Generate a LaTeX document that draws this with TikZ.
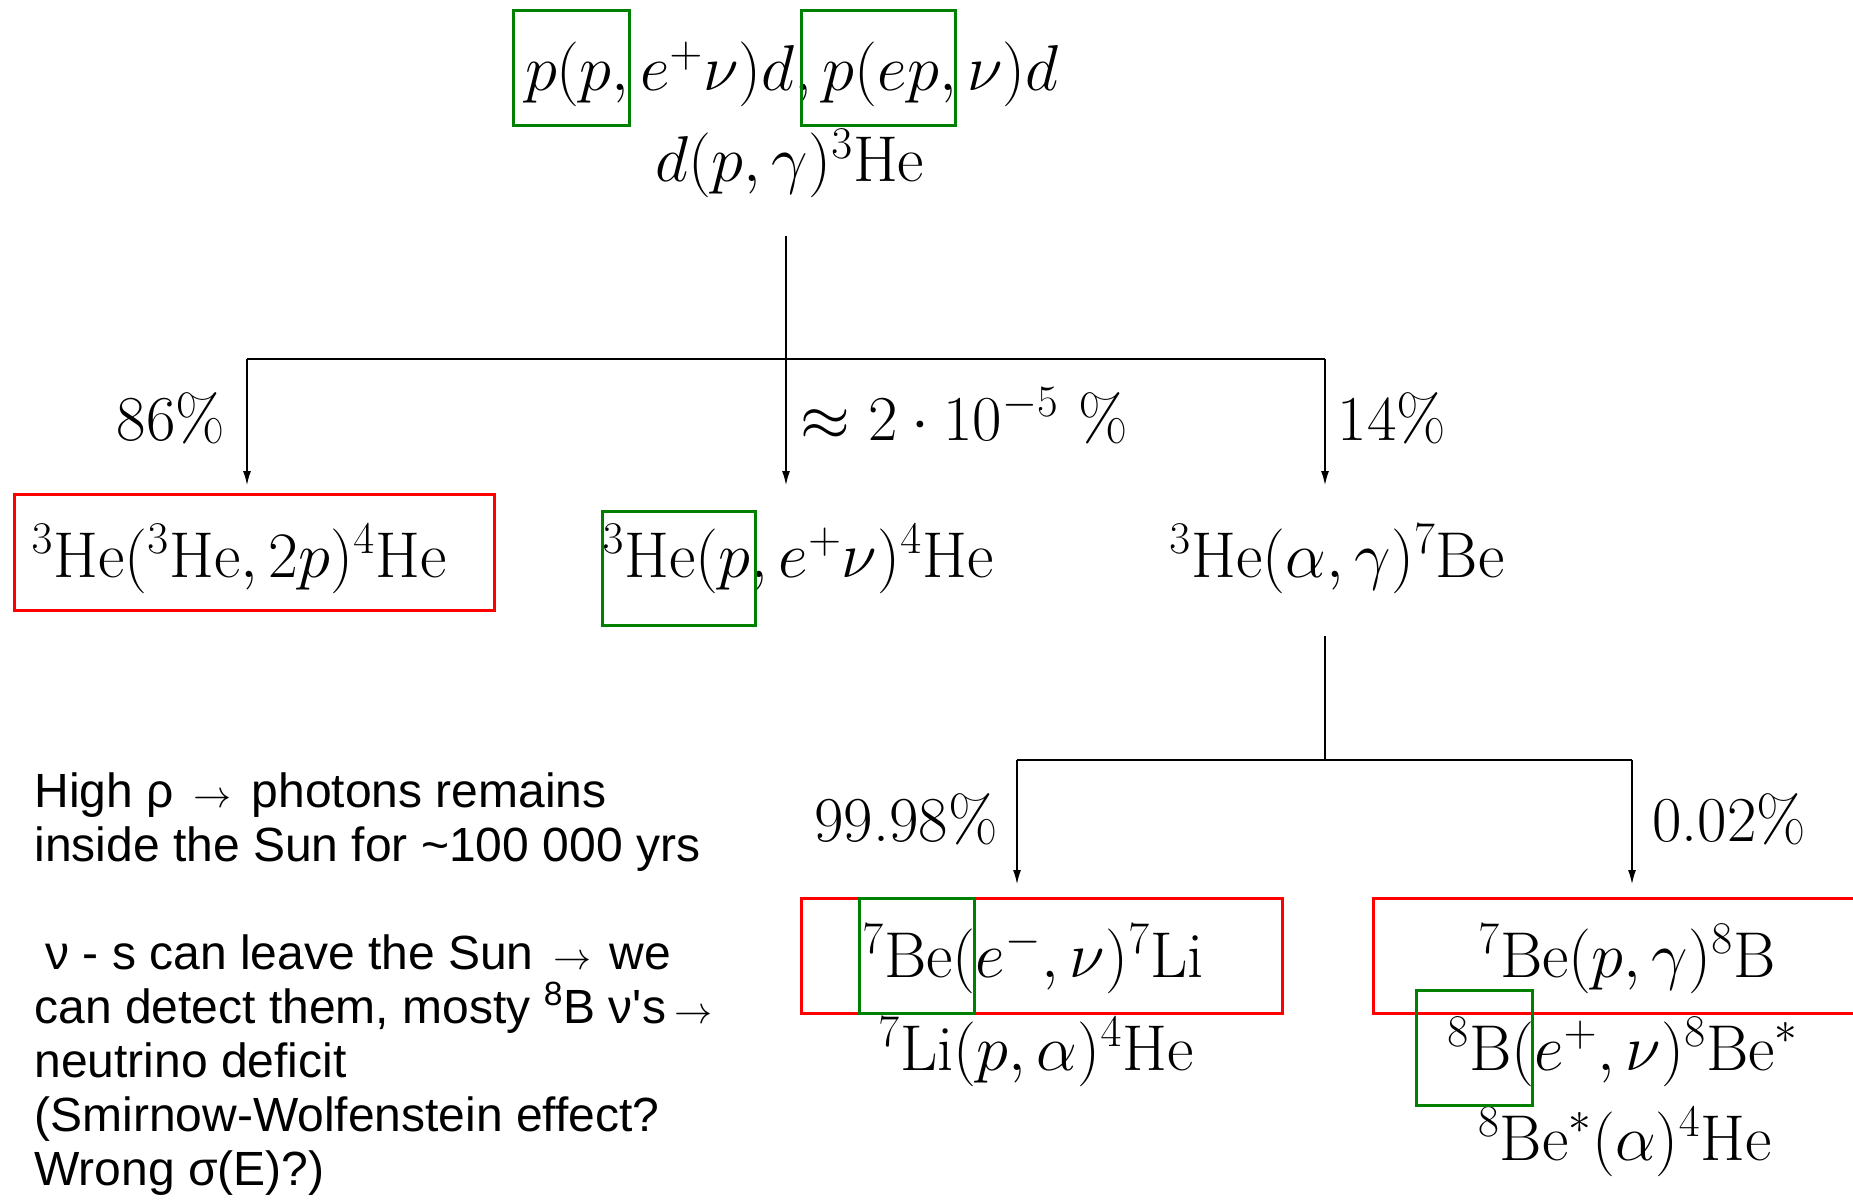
\documentclass[tikz,border=0pt]{standalone}
\usepackage{fix-cm}
\usepackage{fontspec}
\newfontfamily\lsans{Liberation Sans}
\usetikzlibrary{arrows.meta}
\definecolor{gboxc}{RGB}{0,128,0}
\definecolor{rboxc}{RGB}{255,0,0}
\newcommand{\smallarr}{{\fontsize{19}{19}\selectfont$\rightarrow$}}
\begin{document}
\begin{tikzpicture}[x=0.5pt,y=-0.5pt,
  rx/.style={font=\fontsize{32.4}{38}\selectfont, anchor=base, inner sep=0pt},
  pct/.style={font=\fontsize{32}{38}\selectfont, anchor=base, inner sep=0pt},
  note/.style={font=\lsans\fontsize{24}{27}\selectfont, anchor=base west, inner sep=0pt},
  link/.style={line width=0.6pt},
  arr/.style={link, -{Latex[length=7pt,width=4pt]}},
  gbox/.style={draw=gboxc, line width=1.5pt},
  rbox/.style={draw=rboxc, line width=1.5pt}]
\useasboundingbox (0,0) rectangle (1853,1204);
\clip (0,0) rectangle (1853,1204);
\fill[white] (0,0) rectangle (1853,1204);

% reactions
\node[rx] (t1) at (792,91) {$p(p,e^+\nu)d, p(ep,\nu)d$};
\node[rx] (t2) at (790,182) {$d(p,\gamma)^3\mathrm{He}$};
\node[rx] (a) at (239,577) {${}^3\mathrm{He}({}^3\mathrm{He},2p)^4\mathrm{He}$};
\node[rx] (b) at (798,577) {${}^3\mathrm{He}(p,e^+\nu)^4\mathrm{He}$};
\node[rx] (c) at (1337,577) {${}^3\mathrm{He}(\alpha,\gamma)^7\mathrm{Be}$};
\node[rx] (d) at (1033,977) {${}^7\mathrm{Be}(e^-,\nu)^7\mathrm{Li}$};
\node[rx] (d2) at (1036,1070) {${}^7\mathrm{Li}(p,\alpha)^4\mathrm{He}$};
\node[rx] (e) at (1627,977) {${}^7\mathrm{Be}(p,\gamma)^8\mathrm{B}$};
\node[rx] (e2) at (1623,1070) {${}^8\mathrm{B}(e^+,\nu)^8\mathrm{Be}^*$};
\node[rx] (e3) at (1625,1160) {${}^8\mathrm{Be}^*(\alpha)^4\mathrm{He}$};

% branch labels
\node[pct] (p1) at (171,440) {86\%};
\node[pct] (p2) at (964,440) {$\approx 2\cdot 10^{-5}$ \%};
\node[pct] (p3) at (1392,440) {14\%};
\node[pct] (p4) at (906,841) {99.98\%};
\node[pct] (p5) at (1729,841) {0.02\%};

% connectors, first level
\coordinate (s0) at (786,236);
\coordinate (h1) at (786,359);
\coordinate (hL) at (247,359);
\coordinate (hR) at (1325,359);
\coordinate (aT) at (247,485);
\coordinate (bT) at (786,485);
\coordinate (cT) at (1325,485);
\draw[link] (s0) -- (h1);
\draw[link] (hL) -- (hR);
\draw[arr] (hL) -- (aT);
\draw[arr] (h1) -- (bT);
\draw[arr] (hR) -- (cT);

% connectors, second level
\coordinate (s1) at (1325,636);
\coordinate (h2) at (1325,760);
\coordinate (h2L) at (1017,760);
\coordinate (h2R) at (1632,760);
\coordinate (dT) at (1017,884);
\coordinate (eT) at (1632,884);
\draw[link] (s1) -- (h2);
\draw[link] (h2L) -- (h2R);
\draw[arr] (h2L) -- (dT);
\draw[arr] (h2R) -- (eT);

% highlight boxes
\draw[gbox] (513,11) rectangle (629,126);
\draw[gbox] (801,11) rectangle (955,126);
\draw[rbox] (14,494) rectangle (494,610);
\draw[gbox] (602,511) rectangle (755,625);
\draw[rbox] (801,898) rectangle (1282,1013);
\draw[gbox] (859,898) rectangle (974,1013);
\draw[rbox] (1373,898) rectangle (1890,1013);
\draw[gbox] (1416,990) rectangle (1532,1105);

% notes
\node[note] (n1) at (34,807) {High ρ\hspace{10pt}\smallarr\hspace{10pt}photons remains};
\node[note] (n2) at (34,861) {inside the Sun for \textasciitilde100 000 yrs};
\node[note] (n3) at (45,969) {ν - s can leave the Sun\hspace{10pt}\smallarr\hspace{9pt}we};
\node[note] (n4) at (34,1023) {can detect them, mosty \textsuperscript{8}B ν's\,\smallarr};
\node[note] (n5) at (34,1077) {neutrino deficit};
\node[note] (n6) at (34,1131) {(Smirnow-Wolfenstein effect?};
\node[note] (n7) at (34,1185) {Wrong σ(E)?)};
\end{tikzpicture}
\end{document}
